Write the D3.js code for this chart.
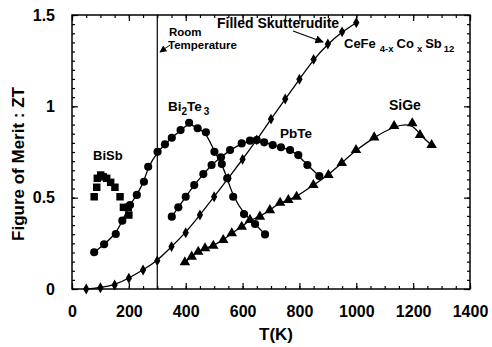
<!DOCTYPE html>
<html>
<head>
<meta charset="utf-8">
<script src="https://cdn.jsdelivr.net/npm/d3@7/dist/d3.min.js"></script>
<style>
  html, body { margin: 0; padding: 0; background: #fff; }
  svg { display: block; font-family: Arial, "Liberation Sans", Helvetica, sans-serif; font-weight: bold; }
  .axis path { display: none; }
  .axis line { stroke: #000; stroke-width: 1.2px; }
  .axis text { font-family: Arial, "Liberation Sans", sans-serif; font-weight: bold; fill: #000; }
</style>
</head>
<body>
<svg id="chart" width="492" height="347"></svg>
<script>
// Thermoelectric figure of merit ZT versus temperature for several material families.

// BiSb (squares, no fit line)
const T_BiSb  = [78, 87, 89, 101, 110, 122, 136, 151, 169, 181, 198, 200];
const ZT_BiSb = [0.505, 0.557, 0.606, 0.624, 0.614, 0.606, 0.584, 0.557, 0.505, 0.447, 0.447, 0.405];

// Bi2Te3 (circles)
const T_BiTe  = [78, 113, 154, 177, 204, 228, 253, 268, 301, 327, 351, 382, 412, 442, 471, 501, 527, 546, 567, 605, 644, 679];
const ZT_BiTe = [0.201, 0.245, 0.301, 0.374, 0.460, 0.515, 0.587, 0.669, 0.751, 0.792, 0.828, 0.870, 0.910, 0.880, 0.858, 0.751, 0.684, 0.606, 0.505, 0.410, 0.356, 0.299];

// PbTe (circles)
const T_PbTe  = [351, 374, 400, 430, 462, 491, 524, 556, 597, 626, 650, 676, 706, 735, 767, 796, 828, 870];
const ZT_PbTe = [0.396, 0.447, 0.505, 0.569, 0.629, 0.679, 0.721, 0.761, 0.797, 0.812, 0.816, 0.803, 0.788, 0.776, 0.761, 0.733, 0.679, 0.618];

// Filled skutterudite CeFe(4-x)Co(x)Sb12 (diamonds)
const T_Skut  = [50, 100, 150, 200, 250, 300, 350, 400, 450, 500, 550, 600, 650, 700, 750, 800, 850, 900, 950, 1000];
const ZT_Skut = [0.0, 0.007, 0.022, 0.059, 0.104, 0.155, 0.232, 0.308, 0.405, 0.505, 0.606, 0.710, 0.816, 0.930, 1.040, 1.148, 1.257, 1.341, 1.408, 1.458];

// SiGe (triangles)
const T_SiGe  = [397, 421, 444, 468, 497, 532, 562, 597, 626, 661, 696, 732, 761, 790, 849, 902, 949, 999, 1063, 1133, 1197, 1224, 1265];
const ZT_SiGe = [0.146, 0.177, 0.204, 0.223, 0.237, 0.268, 0.305, 0.341, 0.378, 0.396, 0.432, 0.472, 0.487, 0.505, 0.569, 0.624, 0.690, 0.761, 0.830, 0.892, 0.907, 0.843, 0.788];

// Axis ticks
const xMajorTicks = [0, 200, 400, 600, 800, 1000, 1200, 1400];
const yMajorTicks = [0, 0.5, 1, 1.5];
const yTickLabels = ["0", "0.5", "1", "1.5"];
const roomT = 300;

const zip = (xs, ys) => xs.map((v, i) => [v, ys[i]]);

const svg = d3.select("#chart");
const m = { left: 72, right: 22, top: 15, bottom: 58 };
const W = 492, H = 347;
const x = d3.scaleLinear().domain([0, 1400]).range([m.left, W - m.right]);
const y = d3.scaleLinear().domain([0, 1.5]).range([H - m.bottom, m.top]);

const xMinor = d3.range(0, 1401, 50);
const yMinor = d3.range(0, 1.5001, 0.05).map(v => +v.toFixed(2));

// axes: ticks point inward on all four sides
function addAxis(gen, transform, values, size, fmt, padding, fontSize) {
  const g = svg.append("g").attr("class", "axis").attr("transform", transform)
    .call(gen.tickValues(values).tickSizeInner(-size).tickSizeOuter(0)
      .tickPadding(padding).tickFormat(fmt));
  g.selectAll("text").style("font-size", fontSize + "px");
  return g;
}
const none = () => "";
addAxis(d3.axisBottom(x), `translate(0,${y(0)})`, xMinor, 3, none, 0, 1);
addAxis(d3.axisBottom(x), `translate(0,${y(0)})`, xMajorTicks, 6, d3.format("d"), 17, 16);
addAxis(d3.axisTop(x), `translate(0,${y(1.5)})`, xMinor, 3, none, 0, 1);
addAxis(d3.axisTop(x), `translate(0,${y(1.5)})`, xMajorTicks, 6, none, 0, 1);
addAxis(d3.axisLeft(y), `translate(${x(0)},0)`, yMinor, 3, none, 0, 1);
addAxis(d3.axisLeft(y), `translate(${x(0)},0)`, yMajorTicks, 6, (d, i) => yTickLabels[i], 17, 16);
addAxis(d3.axisRight(y), `translate(${x(1400)},0)`, yMinor, 3, none, 0, 1);
addAxis(d3.axisRight(y), `translate(${x(1400)},0)`, yMajorTicks, 6, none, 0, 1);

// frame
svg.append("rect")
  .attr("x", x(0)).attr("y", y(1.5))
  .attr("width", x(1400) - x(0)).attr("height", y(0) - y(1.5))
  .attr("fill", "none").attr("stroke", "#000").attr("stroke-width", 1.5);

// room temperature marker
svg.append("line")
  .attr("x1", x(roomT)).attr("x2", x(roomT))
  .attr("y1", y(1.5)).attr("y2", y(0))
  .attr("stroke", "#000").attr("stroke-width", 1.2);

// fitted curves
const line = d3.line().x(d => x(d[0])).y(d => y(d[1])).curve(d3.curveBasis);
[[T_BiTe, ZT_BiTe], [T_PbTe, ZT_PbTe], [T_Skut, ZT_Skut], [T_SiGe, ZT_SiGe]].forEach(([t, z]) => {
  svg.append("path").datum(zip(t, z)).attr("d", line)
    .attr("fill", "none").attr("stroke", "#000").attr("stroke-width", 1.3);
});

// markers
function markers(data, type, size) {
  svg.append("g").selectAll("path").data(data).join("path")
    .attr("transform", d => `translate(${x(d[0])},${y(d[1])})`)
    .attr("d", d3.symbol().type(type).size(size))
    .attr("fill", "#000");
}
markers(zip(T_BiSb, ZT_BiSb), d3.symbolSquare, 56);
markers(zip(T_BiTe, ZT_BiTe), d3.symbolCircle, 52);
markers(zip(T_PbTe, ZT_PbTe), d3.symbolCircle, 52);
markers(zip(T_Skut, ZT_Skut), d3.symbolDiamond, 34);
markers(zip(T_SiGe, ZT_SiGe), d3.symbolTriangle, 48);

// arrowhead
svg.append("defs").append("marker")
  .attr("id", "arrow").attr("viewBox", "0 0 10 10")
  .attr("refX", 9).attr("refY", 5)
  .attr("markerWidth", 7).attr("markerHeight", 7)
  .attr("orient", "auto")
  .append("path").attr("d", "M0,0 L10,5 L0,10 Z").attr("fill", "#000");

// labels
function label(txt, px, py, size) {
  return svg.append("text").attr("x", px).attr("y", py)
    .style("font-size", size + "px").attr("fill", "#000").text(txt);
}
label("BiSb", 93, 160, 13);
label("PbTe", 280, 138, 13.5);
label("SiGe", 389, 110, 14);
label("Filled Skutterudite", 217, 28, 14);
label("Room", 169, 36, 11.5);
label("Temperature", 168, 49, 11.5);

const bt = svg.append("text").attr("x", 168).attr("y", 111).style("font-size", "13.5px");
bt.append("tspan").text("Bi");
bt.append("tspan").attr("dy", 4).style("font-size", "10px").text("2");
bt.append("tspan").attr("dy", -4).text("Te");
bt.append("tspan").attr("dx", 2).attr("dy", 4).style("font-size", "10px").text("3");

const ce = svg.append("text").attr("x", 344).attr("y", 48).style("font-size", "13px");
ce.append("tspan").text("CeFe");
ce.append("tspan").attr("dx", 4).attr("dy", 4).style("font-size", "9.5px").text("4-x");
ce.append("tspan").attr("dx", 3).attr("dy", -4).text("Co");
ce.append("tspan").attr("dx", 3).attr("dy", 4).style("font-size", "9.5px").text("x");
ce.append("tspan").attr("dx", 3).attr("dy", -4).text("Sb");
ce.append("tspan").attr("dx", 2).attr("dy", 4).style("font-size", "9.5px").text("12");

// annotation arrows
svg.append("line").attr("x1", 293).attr("y1", 31).attr("x2", 323).attr("y2", 42)
  .attr("stroke", "#000").attr("stroke-width", 1.2).attr("marker-end", "url(#arrow)");
svg.append("line").attr("x1", 170).attr("y1", 45).attr("x2", 160).attr("y2", 52)
  .attr("stroke", "#000").attr("stroke-width", 1).attr("marker-end", "url(#arrow)");

// axis titles
svg.append("text").attr("x", 276).attr("y", 340).attr("text-anchor", "middle")
  .style("font-size", "17px").text("T(K)");
svg.append("text")
  .attr("transform", `translate(24,${(y(0) + y(1.5)) / 2 + 12}) rotate(-90)`)
  .attr("text-anchor", "middle").style("font-size", "17px").text("Figure of Merit : ZT");
</script>
</body>
</html>
